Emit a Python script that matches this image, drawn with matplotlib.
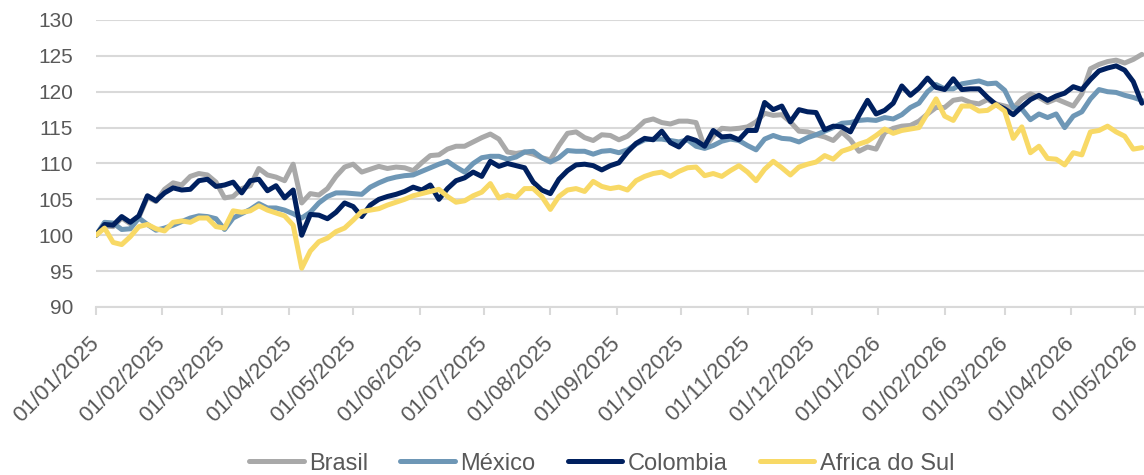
import pandas as pd
import matplotlib
matplotlib.use('Agg')
import matplotlib.pyplot as plt
import matplotlib.dates as mdates

# index levels (base 100 on 01/01/2025), sampled every 4 days
dates = pd.date_range('2025-01-01', periods=123, freq='4D')

brasil = [100.0, 101.3, 101.2, 102.4, 101.6, 102.5, 105.3, 104.7, 106.4, 107.3, 107.0, 108.2, 108.6, 108.4, 107.4, 105.2, 105.4, 106.5, 106.9, 109.3, 108.4,
          108.1, 107.6, 109.9, 104.5, 105.8, 105.6, 106.5, 108.2, 109.5, 109.9, 108.8, 109.2, 109.6, 109.3, 109.5, 109.4, 109.0, 110.1, 111.1, 111.2,
          112.0, 112.4, 112.4, 113.0, 113.6, 114.1, 113.4, 111.6, 111.4, 111.6, 111.3, 110.8, 110.5, 112.5, 114.2, 114.4, 113.6, 113.2, 114.0,
          113.9, 113.3, 113.8, 114.8, 115.9, 116.2, 115.7, 115.5, 115.9, 115.9, 115.7, 112.2, 113.8, 114.9, 114.8, 114.9, 115.1, 115.8, 117.0, 116.7,
          116.8, 115.8, 114.5, 114.4, 114.0, 113.7, 113.2, 114.4, 113.3, 111.7, 112.3, 112.0, 114.3, 114.9, 115.2, 115.3, 115.9, 116.9, 117.8, 117.8,
          118.8, 119.0, 118.5, 118.3, 118.9, 118.3, 118.0, 117.7, 119.0, 119.7, 119.2, 118.5, 119.0, 118.5, 118.0, 119.7, 123.2, 123.8, 124.2, 124.4, 124.0, 124.5, 125.2]

mexico = [100.0, 101.8, 101.7, 100.8, 100.9, 102.4, 101.5, 100.7, 101.0, 101.4, 101.9, 102.4, 102.7, 102.6, 102.3, 100.8, 102.4, 103.0, 103.6, 104.4, 103.8,
          103.8, 103.5, 103.0, 102.4, 103.2, 104.5, 105.4, 105.9, 105.9, 105.8, 105.7, 106.7, 107.3, 107.8, 108.1, 108.3, 108.4, 108.9, 109.4, 109.9,
          110.3, 109.5, 108.8, 110.0, 110.8, 111.0, 111.0, 110.6, 110.9, 111.6, 111.7, 110.8, 110.2, 110.8, 111.8, 111.7, 111.7, 111.3, 111.7,
          111.8, 111.5, 111.9, 112.7, 113.3, 113.4, 113.4, 113.2, 113.0, 113.3, 112.4, 112.1, 112.5, 113.1, 113.4, 113.2, 112.5, 111.9, 113.4, 113.9,
          113.5, 113.4, 113.0, 113.6, 114.0, 114.5, 115.0, 115.6, 115.7, 116.0, 116.1, 116.0, 116.4, 116.2, 116.8, 117.8, 118.4, 120.0, 121.0, 120.4,
          120.4, 121.1, 121.3, 121.5, 121.1, 121.2, 120.2, 117.8, 117.6, 116.1, 116.9, 116.4, 116.9, 115.0, 116.6, 117.2, 119.0, 120.3, 120.0, 119.9, 119.5, 119.2, 118.8]

colombia = [100.0, 101.5, 101.4, 102.6, 101.8, 102.7, 105.5, 104.8, 105.9, 106.6, 106.3, 106.4, 107.6, 107.8, 106.8, 107.0, 107.4, 105.9, 107.6, 107.8, 106.2,
            106.9, 105.2, 106.3, 100.0, 102.9, 102.8, 102.3, 103.2, 104.5, 104.0, 102.6, 104.2, 105.0, 105.4, 105.7, 106.1, 106.7, 106.3, 107.0, 105.0,
            106.5, 107.6, 108.0, 108.8, 108.2, 110.3, 109.6, 110.0, 109.7, 109.4, 107.4, 106.3, 105.8, 107.8, 109.0, 109.8, 109.9, 109.7, 109.1,
            109.7, 110.1, 111.6, 112.8, 113.5, 113.3, 114.5, 112.9, 112.3, 113.6, 113.2, 112.4, 114.6, 113.7, 113.8, 113.3, 114.6, 114.6, 118.5, 117.5,
            118.0, 115.8, 117.5, 117.2, 117.1, 114.7, 115.2, 115.1, 114.4, 116.7, 118.8, 116.9, 117.4, 118.4, 120.8, 119.5, 120.5, 121.9, 120.6, 120.3,
            121.8, 120.3, 120.4, 120.4, 119.2, 118.2, 117.6, 116.8, 117.9, 118.9, 119.5, 118.8, 119.4, 119.8, 120.7, 120.3, 121.7, 122.9, 123.3, 123.6, 123.0, 121.4, 118.4]

africa_sul = [100.0, 101.0, 99.0, 98.7, 99.8, 101.2, 101.5, 100.9, 100.6, 101.8, 102.0, 101.8, 102.4, 102.4, 101.2, 101.0, 103.4, 103.2, 103.4, 104.1, 103.5,
              103.1, 102.7, 101.4, 95.4, 97.8, 99.1, 99.6, 100.5, 101.0, 102.1, 103.3, 103.5, 103.7, 104.2, 104.6, 105.0, 105.5, 105.8, 106.1, 106.4,
              105.4, 104.6, 104.8, 105.5, 106.0, 107.2, 105.2, 105.6, 105.3, 106.5, 106.5, 105.4, 103.6, 105.4, 106.3, 106.5, 106.1, 107.5, 106.8,
              106.5, 106.7, 106.3, 107.6, 108.2, 108.6, 108.8, 108.2, 108.9, 109.4, 109.5, 108.3, 108.6, 108.2, 109.0, 109.7, 108.8, 107.6, 109.2, 110.3,
              109.4, 108.4, 109.5, 109.9, 110.2, 111.1, 110.6, 111.7, 112.1, 112.7, 113.1, 113.9, 114.8, 114.2, 114.6, 114.8, 115.0, 117.0, 119.0, 116.6,
              116.0, 118.0, 118.0, 117.3, 117.4, 118.2, 117.3, 113.5, 115.1, 111.5, 112.4, 110.7, 110.6, 109.8, 111.5, 111.2, 114.4, 114.6, 115.2, 114.4, 113.8, 112.0, 112.2]

series = [('Brasil', brasil, '#A9A9A9'),
          ('México', mexico, '#6E97B6'),
          ('Colombia', colombia, '#00205F'),
          ('Africa do Sul', africa_sul, '#F8D966')]

plt.rcParams['font.family'] = ['Liberation Sans', 'DejaVu Sans']
text_col = '#595959'
grid_col = '#D9D9D9'

fig = plt.figure(figsize=(11.44, 4.75), dpi=100)
ax = fig.add_axes([0.0839, 0.3537, 0.9161, 0.6043])

for name, vals, col in series:
    ax.plot(dates, vals, color=col, lw=3.6, label=name, solid_capstyle='round', solid_joinstyle='round')

ax.set_ylim(90, 130)
ax.set_yticks(range(90, 131, 5))
ax.set_xlim(pd.Timestamp('2025-01-01'), pd.Timestamp('2025-01-01') + pd.Timedelta(days=489))
ax.xaxis.set_major_locator(mdates.MonthLocator())
ax.xaxis.set_major_formatter(mdates.DateFormatter('%d/%m/%Y'))

ax.grid(axis='y', color=grid_col, lw=1.5)
ax.set_axisbelow(True)
for s in ['top', 'right', 'left']:
    ax.spines[s].set_visible(False)
ax.spines['bottom'].set_color(grid_col)
ax.spines['bottom'].set_linewidth(1.5)

ax.tick_params(axis='y', length=0, pad=16.5, labelsize=15, labelcolor=text_col)
ax.tick_params(axis='x', length=6, width=1.5, color=grid_col, pad=18, labelsize=16, labelcolor=text_col)
for lbl in ax.get_xticklabels():
    lbl.set_rotation(45)
    lbl.set_ha('right')
    lbl.set_va('center')
    lbl.set_rotation_mode('anchor')

fig.legend(loc='center', bbox_to_anchor=(0.526, 0.024), ncol=4, frameon=False,
           fontsize=17, labelcolor=text_col, handlelength=2.3, handletextpad=0.25,
           columnspacing=1.35, borderpad=0.2)

fig.savefig('out.png', dpi=100)
